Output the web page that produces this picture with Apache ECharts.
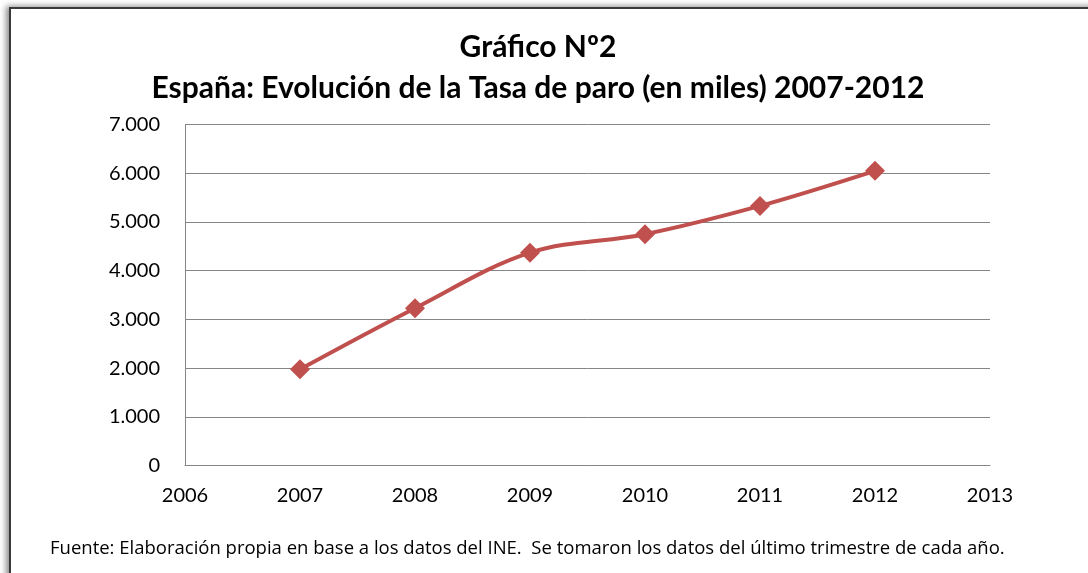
<!DOCTYPE html>
<html style="height: 100%">
<head>
<meta charset="utf-8">
<style>
    html, body {
        height: 100%;
        margin: 0;
        overflow: hidden;
        background: #fff;
    }
    #frame {
        position: absolute;
        left: 9px;
        top: 7px;
        width: 1120px;
        height: 620px;
        border: 2px solid #3a3a3a;
        box-shadow: -3px -1px 6px rgba(0, 0, 0, 0.45);
    }
    #container {
        position: absolute;
        left: 0;
        top: 0;
        width: 1088px;
        height: 573px;
    }
</style>
<title>Tasa de paro 2007-2012</title>
</head>
<body>
<div id="frame"></div>
<div id="container"></div>
<script src="https://cdn.jsdelivr.net/npm/echarts@6/dist/echarts.min.js"></script>
<script type="text/javascript">
// datos (miles de personas, ultimo trimestre)
var years = [2007, 2008, 2009, 2010, 2011, 2012];
var paro = [1975, 3230, 4370, 4750, 5330, 6050];
var titleLines = ['Gráfico Nº2', 'España: Evolución de la Tasa de paro (en miles) 2007-2012'];
var footer = 'Fuente: Elaboración propia en base a los datos del INE.  Se tomaron los datos del último trimestre de cada año.';

var font = 'Lato, "Open Sans", sans-serif';
var myChart = echarts.init(document.getElementById('container'), null, { renderer: 'canvas' });

var points = years.map(function (y, i) { return [y, paro[i]]; });

var option = {
    animation: false,
    textStyle: { fontFamily: font },
    title: {
        text: titleLines.join('\n'),
        left: 533,
        top: 22,
        textAlign: 'center',
        textStyle: {
            fontFamily: font,
            fontWeight: 'bold',
            fontSize: 30,
            lineHeight: 41,
            color: '#000'
        }
    },
    grid: {
        left: 185,
        right: 98,
        top: 124.6,
        bottom: 107.5,
        containLabel: false
    },
    xAxis: {
        type: 'value',
        min: 2006,
        max: 2013,
        interval: 1,
        axisLine: { lineStyle: { color: '#868686', width: 1 } },
        axisTick: { show: false },
        splitLine: { show: false },
        axisLabel: {
            color: '#000',
            fontSize: 20,
            margin: 20,
            fontFamily: font,
            formatter: function (v) { return String(v); }
        }
    },
    yAxis: {
        type: 'value',
        min: 0,
        max: 7000,
        interval: 1000,
        axisLine: { show: true, lineStyle: { color: '#868686', width: 1 } },
        axisTick: { show: false },
        splitLine: { lineStyle: { color: '#868686', width: 1 } },
        axisLabel: {
            color: '#000',
            fontSize: 20,
            margin: 25,
            fontFamily: font,
            formatter: function (v) {
                return String(v).replace(/(\d)(?=(\d{3})+$)/g, '$1.');
            }
        }
    },
    graphic: [{
        type: 'text',
        left: 50,
        top: 539,
        style: {
            text: footer,
            fontFamily: '"Open Sans", Lato, sans-serif',
            fontSize: 18.5,
            fill: '#000'
        }
    }],
    series: [{
        type: 'line',
        data: points,
        smooth: 0.35,
        symbol: 'diamond',
        symbolSize: 20,
        lineStyle: { color: '#C0504D', width: 4 },
        itemStyle: { color: '#C0504D' }
    }]
};
myChart.setOption(option);
</script>
</body>
</html>
